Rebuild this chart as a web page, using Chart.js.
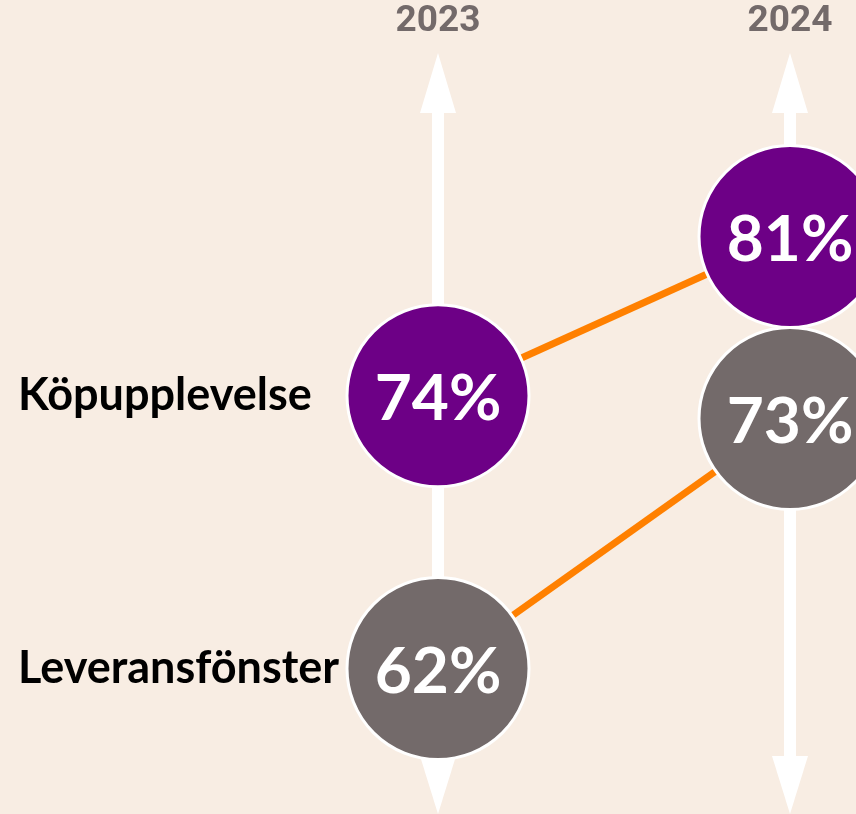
<!DOCTYPE html>
<html>
<head>
<meta charset="utf-8">
<script src="https://cdn.jsdelivr.net/npm/chart.js@4.4.1/dist/chart.umd.min.js"></script>
<style>
  html, body { margin: 0; padding: 0; background: #f8ede3; }
  #wrap { width: 856px; height: 814px; position: relative; }
</style>
</head>
<body>
<div id="wrap"><canvas id="chart"></canvas></div>
<script>
// data
const years = ["2023", "2024"];
const seriesNames = ["Köpupplevelse", "Leveransfönster"];
const kopupplevelse = [74, 81];
const leveransfonster = [62, 73];

const purple = "#6d0086";
const grey = "#736a6a";
const orange = "#ff8000";
const circleFont = "Lato";

// white arrows behind each year
const arrowsPlugin = {
    id: "arrows",
    beforeDatasetsDraw(chart) {
        const ctx = chart.ctx;
        const xs = chart.scales.x;
        ctx.save();
        ctx.fillStyle = "#ffffff";
        years.forEach((y, i) => {
            const x = xs.getPixelForValue(i);
            ctx.fillRect(x - 6, 110, 12, 650);
            ctx.beginPath();
            ctx.moveTo(x, 53);
            ctx.lineTo(x + 18, 113);
            ctx.lineTo(x - 18, 113);
            ctx.closePath();
            ctx.fill();
            ctx.beginPath();
            ctx.moveTo(x - 18, 756);
            ctx.lineTo(x + 18, 756);
            ctx.lineTo(x, 814);
            ctx.closePath();
            ctx.fill();
        });
        ctx.restore();
    }
};

// percentages inside circles + series names on the left
const labelsPlugin = {
    id: "labels",
    afterDatasetsDraw(chart) {
        const ctx = chart.ctx;
        ctx.save();
        chart.data.datasets.forEach((ds, di) => {
            const meta = chart.getDatasetMeta(di);
            meta.data.forEach((pt, i) => {
                ctx.fillStyle = "#ffffff";
                ctx.font = "bold 64px " + circleFont;
                ctx.textAlign = "center";
                ctx.textBaseline = "middle";
                ctx.fillText(ds.data[i] + "%", pt.x, pt.y + 4);
            });
            const first = meta.data[0];
            ctx.fillStyle = "#000000";
            ctx.font = "bold 45px " + circleFont;
            ctx.textAlign = "left";
            ctx.fillText(ds.label, 18, first.y);
        });
        ctx.restore();
    }
};

function makeSet(name, values, color) {
    return {
        label: name,
        data: values,
        borderColor: orange,
        borderWidth: 7,
        pointRadius: 91,
        pointHoverRadius: 91,
        pointBackgroundColor: color,
        pointBorderColor: "#ffffff",
        pointBorderWidth: 3,
        clip: false
    };
}

new Chart(document.getElementById("chart").getContext("2d"), {
    type: "line",
    data: {
        labels: years,
        datasets: [
            makeSet(seriesNames[0], kopupplevelse, purple),
            makeSet(seriesNames[1], leveransfonster, grey)
        ]
    },
    options: {
        responsive: true,
        maintainAspectRatio: false,
        animation: false,
        events: [],
        layout: {
            autoPadding: false,
            padding: { left: 438, right: 66, top: 0, bottom: 0 }
        },
        scales: {
            x: {
                position: "top",
                offset: false,
                grid: { display: false },
                border: { display: false },
                ticks: {
                    color: grey,
                    padding: 0,
                    maxRotation: 0,
                    minRotation: 0,
                    autoSkip: false,
                    font: { family: "Roboto", weight: "bold", size: 37 }
                }
            },
            y: {
                display: false,
                min: 55.6,
                max: 89.1
            }
        },
        plugins: {
            legend: { display: false },
            tooltip: { enabled: false }
        }
    },
    plugins: [arrowsPlugin, labelsPlugin]
});
</script>
</body>
</html>
